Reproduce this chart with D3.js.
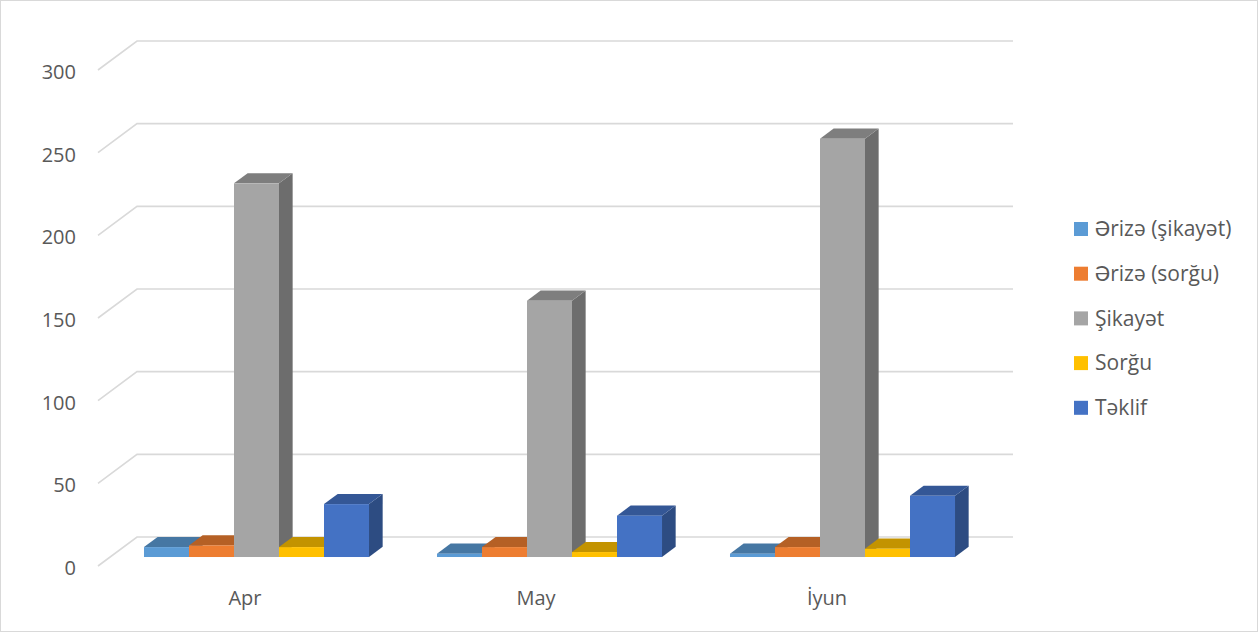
<!DOCTYPE html>
<html>
<head>
<meta charset="utf-8">
<script src="https://cdn.jsdelivr.net/npm/d3@7"></script>
<style>
  body { margin: 0; background: #fff; }
  svg { display: block; font-family: "Open Sans", Lato, sans-serif; }
</style>
</head>
<body>
<script>
const categories = ["Apr", "May", "İyun"];
const seriesNames = ["Ərizə (şikayət)", "Ərizə (sorğu)", "Şikayət", "Sorğu", "Təklif"];
const erizeSikayet = [6, 2, 2];
const erizeSorgu = [7, 6, 6];
const sikayet = [226, 155, 253];
const sorgu = [6, 3, 5];
const teklif = [32, 25, 37];
const seriesColors = ["#5b9bd5", "#ed7d31", "#a5a5a5", "#ffc000", "#4472c4"];
const yTicks = [0, 50, 100, 150, 200, 250, 300];

const values = [erizeSikayet, erizeSorgu, sikayet, sorgu, teklif];

const width = 1258;
const height = 632;

// oblique 3D: going "back" moves right and up
const depthX = 39, depthY = 29;
const barFront = 0.31, barBack = 0.66;

const svg = d3.create("svg")
  .attr("width", width)
  .attr("height", height)
  .attr("viewBox", [0, 0, width, height]);

svg.append("rect")
  .attr("x", 0.5).attr("y", 0.5)
  .attr("width", width - 1).attr("height", height - 1)
  .attr("fill", "#fff").attr("stroke", "#d9d9d9");

// front-plane value scale
const y = d3.scaleLinear().domain([0, 300]).range([566, 70]);

const wallLeft = 98, wallRight = 1013;

// gridlines on the side wall and back wall
svg.append("g")
  .attr("fill", "none")
  .attr("stroke", "#d9d9d9")
  .attr("stroke-width", 1.6)
  .selectAll("path")
  .data(yTicks)
  .join("path")
  .attr("d", d => {
    const yf = y(d);
    return `M${wallLeft},${yf}L${wallLeft + depthX},${yf - depthY}L${wallRight},${yf - depthY}`;
  });

// value axis labels
svg.append("g")
  .attr("fill", "#595959")
  .attr("font-size", 20)
  .attr("text-anchor", "end")
  .selectAll("text")
  .data(yTicks)
  .join("text")
  .attr("x", 76)
  .attr("y", d => y(d) + 2)
  .attr("dy", "0.35em")
  .text(d => d);

// category scale in the plane of the bar fronts
const x = d3.scaleBand()
  .domain(categories)
  .range([110, 989])
  .paddingInner(0.232)
  .paddingOuter(0.116);

const xs = d3.scaleBand()
  .domain(seriesNames)
  .range([0, x.bandwidth()]);

const offFy = depthY * barFront;
const bx = depthX * (barBack - barFront), by = depthY * (barBack - barFront);

const bars = [];
categories.forEach((c, i) => {
  seriesNames.forEach((s, j) => {
    bars.push({ category: c, series: s, value: values[j][i], color: seriesColors[j] });
  });
});

function face(d) {
  const x0 = x(d.category) + xs(d.series);
  const x1 = x0 + xs.bandwidth();
  const yb = y(0) - offFy;
  const yt = y(d.value) - offFy;
  return { x0, x1, yb, yt };
}

const barG = svg.append("g")
  .selectAll("g")
  .data(bars)
  .join("g");

// right side
barG.append("path")
  .attr("fill", d => d3.color(d.color).darker(1.15))
  .attr("d", d => {
    const f = face(d);
    return `M${f.x1},${f.yb}L${f.x1 + bx},${f.yb - by}L${f.x1 + bx},${f.yt - by}L${f.x1},${f.yt}Z`;
  });

// top
barG.append("path")
  .attr("fill", d => d3.color(d.color).darker(0.75))
  .attr("d", d => {
    const f = face(d);
    return `M${f.x0},${f.yt}L${f.x0 + bx},${f.yt - by}L${f.x1 + bx},${f.yt - by}L${f.x1},${f.yt}Z`;
  });

// front
barG.append("rect")
  .attr("fill", d => d.color)
  .attr("x", d => face(d).x0)
  .attr("y", d => face(d).yt)
  .attr("width", xs.bandwidth())
  .attr("height", d => face(d).yb - face(d).yt);

// category labels sit on the front edge of the floor
const xl = d3.scalePoint().domain(categories).range([245, 827]);

svg.append("g")
  .attr("fill", "#595959")
  .attr("font-size", 20)
  .attr("text-anchor", "middle")
  .selectAll("text")
  .data(categories)
  .join("text")
  .attr("x", d => xl(d))
  .attr("y", 598)
  .attr("dy", "0.35em")
  .text(d => d);

// legend
const legend = svg.append("g")
  .selectAll("g")
  .data(seriesNames)
  .join("g")
  .attr("transform", (d, i) => `translate(1074,${229 + i * 44.7})`);

legend.append("rect")
  .attr("y", -7)
  .attr("width", 14)
  .attr("height", 14)
  .attr("fill", (d, i) => seriesColors[i]);

legend.append("text")
  .attr("x", 21)
  .attr("dy", "0.35em")
  .attr("fill", "#595959")
  .attr("font-size", 21)
  .text(d => d);

document.body.appendChild(svg.node());
</script>
</body>
</html>
